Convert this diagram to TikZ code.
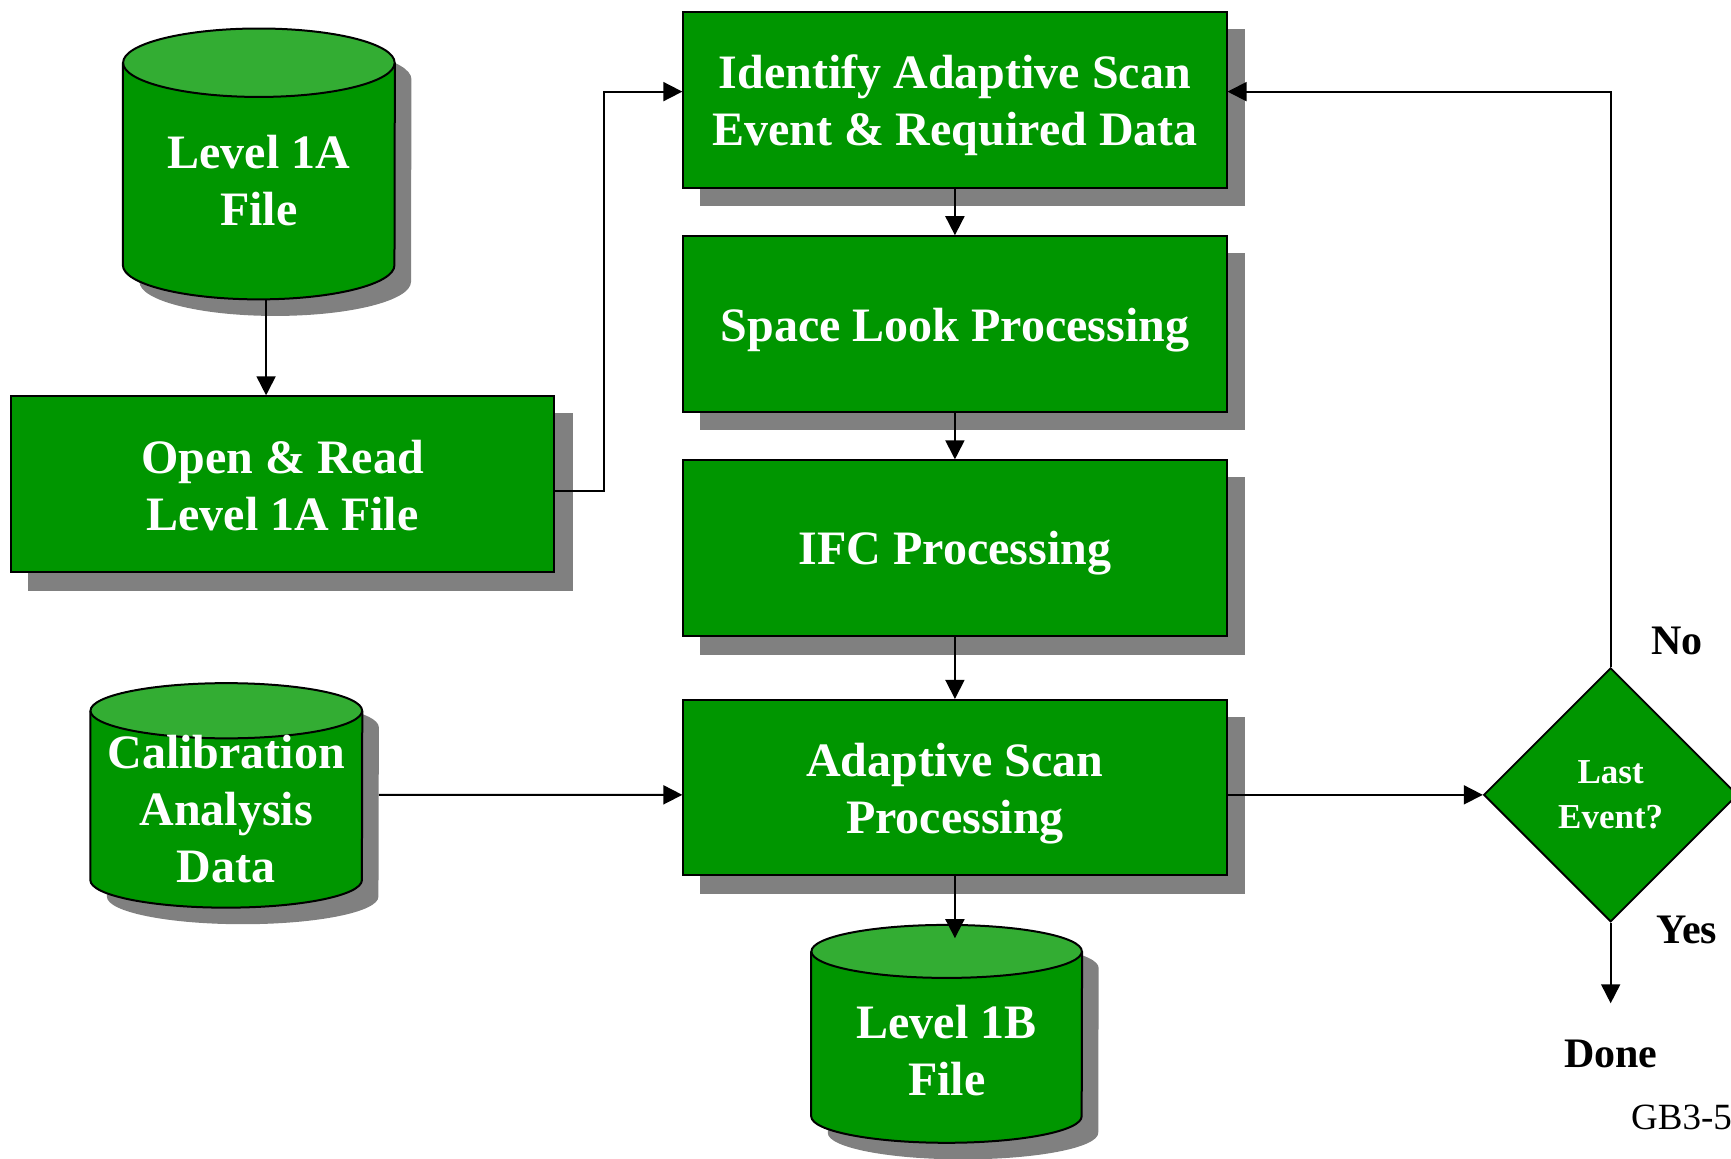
\documentclass[tikz,border=0pt]{standalone}
\usepackage{fontspec}
\setmainfont{Liberation Serif}
\usetikzlibrary{arrows.meta,shapes.geometric,backgrounds,calc}
\definecolor{boxgreen}{RGB}{0,150,0}
\definecolor{topgreen}{RGB}{51,173,51}
\definecolor{shadowgray}{RGB}{128,128,128}
\tikzset{
  box/.style={draw=black, line width=2pt, fill=boxgreen, minimum width=492*1.104pt,
    minimum height=159*1.104pt, inner sep=0pt},
  boxtxt/.style={inner sep=0pt, text=white,
    font=\bfseries\fontsize{48}{57}\selectfont, align=center},
  cylnode/.style={inner sep=0pt, text=white, font=\bfseries\fontsize{48}{57}\selectfont, align=center},
  arr/.style={line width=1.8pt, -{Triangle[length=19pt,width=19pt]}},
  lbl/.style={font=\bfseries\fontsize{42}{50}\selectfont, inner sep=0pt},
}
\newcommand\drawcyl[3]{%
  \fill[shadowgray] ([shift={(15,15)}]#1.north west) -- ([shift={(15,{15-#3})}]#1.south west)
    arc[start angle=180,end angle=360,x radius=#2*1.104pt,y radius=#3*1.104pt]
    -- ([shift={(15,15)}]#1.north east)
    arc[start angle=0,end angle=180,x radius=#2*1.104pt,y radius=#3*1.104pt] -- cycle;
  \filldraw[fill=boxgreen, draw=black, line width=2pt] (#1.north west) -- ([yshift=#3*1.104pt]#1.south west)
    arc[start angle=180,end angle=360,x radius=#2*1.104pt,y radius=#3*1.104pt] -- (#1.north east);
  \filldraw[fill=topgreen, draw=black, line width=2pt] (#1.north) ellipse [x radius=#2*1.104pt, y radius=#3*1.104pt];
}
\begin{document}
\begin{tikzpicture}[x=1.104pt,y=-1.104pt]
\useasboundingbox (0,0) rectangle (1568,1049);

\node[box] (ident) at (865,90.5) {};
\node[box] (space) at (865,293.5) {};
\node[box] (ifc) at (865,496.5) {};
\node[box] (adapt) at (865,713.5) {};
\node[box] (open) at (256,438.5) {};
\node[boxtxt] (identt) at ([yshift=-5.5pt]ident.center) {Identify Adaptive Scan\\Event \& Required Data};
\node[boxtxt] (spacet) at ([yshift=-6pt]space.center) {Space Look Processing};
\node[boxtxt] (ifct) at ([yshift=-5.5pt]ifc.center) {IFC Processing};
\node[boxtxt] (adaptt) at ([yshift=-6pt]adapt.center) {Adaptive Scan\\Processing};
\node[boxtxt] (opent) at ([yshift=-1pt]open.center) {Open \& Read\\Level 1A File};

\node[cylnode, minimum width=246*1.104pt, minimum height=214*1.104pt] (l1a) at (234.5,164) {Level 1A\\File};
\node[cylnode, minimum width=246*1.104pt, minimum height=178*1.104pt] (cal) at (205,733) {Calibration\\Analysis\\Data};
\node[cylnode, minimum width=245*1.104pt, minimum height=173*1.104pt] (l1b) at (857.5,948.5) {};
\node[cylnode] (l1bt) at ([yshift=-3pt]l1b.center) {Level 1B\\File};

\node[diamond, draw=black, line width=1.8pt, fill=boxgreen, minimum width=230*1.104pt,
  minimum height=230*1.104pt, inner sep=0pt, text=white,
  font=\bfseries\fontsize{35}{45}\selectfont, align=center] (dia) at (1459,720) {Last\\Event?};

\begin{scope}[on background layer]
  \foreach \n in {ident,space,ifc,adapt,open}
    \fill[shadowgray] ([shift={(16,16)}]\n.north west) rectangle ([shift={(16,16)}]\n.south east);
  \drawcyl{l1a}{123}{31}
  \drawcyl{cal}{123}{25}
  \drawcyl{l1b}{122.5}{24}
\end{scope}

\node[lbl] (no) at (1519,581) {No};
\node[lbl] (yes) at (1528,842) {Yes};
\node[lbl] (done) at (1459,955) {Done};
\node[font=\fontsize{37}{44}\selectfont, inner sep=0pt, anchor=east] (gb) at (1569,1012) {GB3-5};

\draw[arr] ([xshift=7.2pt]l1a.south) -- ([xshift=7.2pt]l1a.south |- open.north);
\draw[arr] ([yshift=-7.2pt]open.east) -- ++(44,0) |- ([yshift=8.28pt]ident.west);
\draw[arr] (ident.south) -- (space.north);
\draw[arr] (space.south) -- (ifc.north);
\draw[arr] (ifc.south) -- (adapt.north);
\draw[arr] ([shift={(15,-13)}]cal.east) -- ([yshift=14.35pt]cal.east -| adapt.west);
\draw[arr] (dia.west -| adapt.east) -- (dia.west);
\draw[arr] (adapt.south) -- ([yshift=13.2pt]adapt.south |- l1b.north);
\draw[arr] (dia.north) |- ([yshift=8.28pt]ident.east);
\draw[arr] (dia.south) -- ++(0,73);
\end{tikzpicture}
\end{document}
